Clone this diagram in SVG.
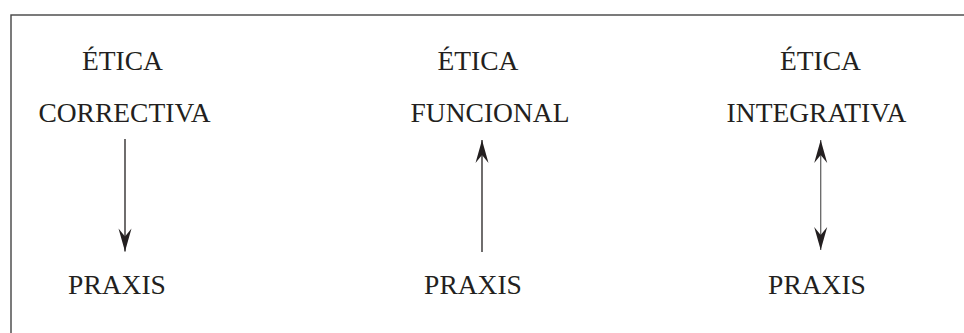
<svg xmlns="http://www.w3.org/2000/svg" width="964" height="333" viewBox="0 0 964 333">
<defs>
<style>
text{font-family:"Liberation Serif","Times New Roman",serif;font-size:27.5px;fill:#231f20;text-anchor:middle}
.ln{stroke:#231f20;stroke-width:1.3;fill:none}
.ln2{stroke:#666;stroke-width:1.3;fill:none}
.frame{stroke:#444;stroke-width:1.4;fill:none}
</style>
<marker id="ah" viewBox="-24 -7 25 14" refX="0" refY="0" markerWidth="25" markerHeight="14" markerUnits="userSpaceOnUse" orient="auto-start-reverse" overflow="visible">
<path d="M0,0 L-23,-6.5 L-15,0 L-23,6.5 Z" fill="#231f20"/>
</marker>
</defs>
<rect class="frame" x="11" y="15" width="970" height="330"/>
<g id="col1">
<text x="122.5" y="70">ÉTICA</text>
<text x="124.5" y="122">CORRECTIVA</text>
</g>
<g id="praxis1"><text x="117" y="294">PRAXIS</text></g>
<g id="col2">
<text x="478" y="70">ÉTICA</text>
<text x="490" y="122">FUNCIONAL</text>
</g>
<g id="praxis2"><text x="473" y="294">PRAXIS</text></g>
<g id="col3">
<text x="820.5" y="70">ÉTICA</text>
<text x="816.5" y="122">INTEGRATIVA</text>
</g>
<g id="praxis3"><text x="817" y="294">PRAXIS</text></g>
<g id="connectors">
<path class="ln" d="M125,139 L125,251.5" marker-end="url(#ah)"/>
<path class="ln" d="M482,252 L482,140" marker-end="url(#ah)"/>
<path class="ln2" d="M820.7,140 L820.7,250" marker-start="url(#ah)" marker-end="url(#ah)"/>
</g>
</svg>
